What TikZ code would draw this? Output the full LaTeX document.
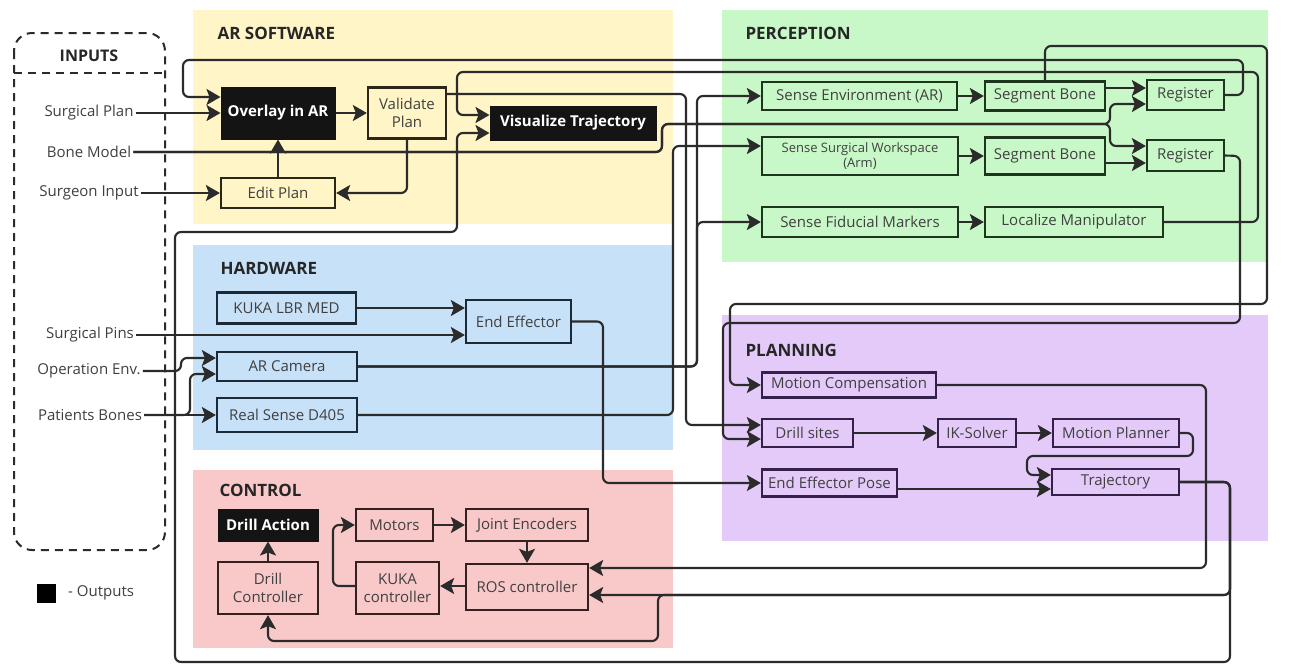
\documentclass[tikz,border=0pt]{standalone}
\usepackage{fontspec}
\setmainfont{Open Sans}
\usetikzlibrary{arrows.meta}
\definecolor{ylw}{HTML}{FFF5C6}
\definecolor{grn}{HTML}{C9F8C8}
\definecolor{blu}{HTML}{C7E1F8}
\definecolor{pur}{HTML}{E3CAF9}
\definecolor{pnk}{HTML}{F9C9C9}
\definecolor{ybd}{HTML}{2A2618}
\definecolor{gbd}{HTML}{1C351C}
\definecolor{bbd}{HTML}{1C2A38}
\definecolor{pbd}{HTML}{35204A}
\definecolor{kbd}{HTML}{352020}
\definecolor{lncol}{HTML}{2B2B2B}
\definecolor{txcol}{HTML}{404040}
\newcommand{\mybody}{\fontsize{15}{17.5}\selectfont}
\newcommand{\mysmall}{\fontsize{13}{15.5}\selectfont}
\newcommand{\mytitle}{\fontsize{17}{20}\selectfont\bfseries}
\begin{document}
\begin{tikzpicture}[x=1pt,y=-1pt,
  box/.style={rectangle, line width=2.3pt, inner sep=1pt, align=center, font=\mybody, text=txcol},
  ybox/.style={box, draw=ybd, fill=ylw},
  gbox/.style={box, draw=gbd, fill=grn},
  bbox/.style={box, draw=bbd, fill=blu},
  pbox/.style={box, draw=pbd, fill=pur},
  kbox/.style={box, draw=kbd, fill=pnk},
  outbox/.style={rectangle, fill=black!92, draw=black!92, line width=1pt, text=white, font=\mybody\bfseries, align=center},
  title/.style={anchor=west, font=\mytitle, text=black!85},
  inlab/.style={font=\mybody, text=txcol, inner sep=2pt},
  conn/.style={draw=lncol, line width=2.1pt, rounded corners=6pt, -{Stealth[length=14pt,width=16pt,inset=3pt]}},
]
\useasboundingbox (0,0) rectangle (1309,665);
\fill[white] (0,0) rectangle (1309,665);

% panels
\fill[ylw] (193,10) rectangle (673,224);
\fill[grn] (722,10) rectangle (1268,262);
\fill[blu] (193,245) rectangle (673,450);
\fill[pur] (722,315) rectangle (1268,541);
\fill[pnk] (193,470) rectangle (673,648);

\node[title] (tar) at (214,33) {AR SOFTWARE};
\node[title] (tpe) at (742,33) {PERCEPTION};
\node[title] (thw) at (217,268) {HARDWARE};
\node[title] (tpl) at (742,350) {PLANNING};
\node[title] (tco) at (216,490) {CONTROL};

% inputs box
\draw[draw=lncol, line width=2pt, dash pattern=on 8pt off 6pt, rounded corners=18pt] (14,33) rectangle (165,550);
\draw[draw=lncol, line width=2pt, dash pattern=on 8pt off 6pt] (14,73) -- (165,73);
\node[font=\fontsize{16}{19}\selectfont\bfseries, text=black!85] (tin) at (89,56) {INPUTS};

\node[inlab] (splan) at (89,113) {Surgical Plan};
\node[inlab] (bone) at (89,152) {Bone Model};
\node[inlab] (surin) at (89,193) {Surgeon Input};
\node[inlab] (spins) at (90,335) {Surgical Pins};
\node[inlab] (openv) at (89,371) {Operation Env.};
\node[inlab] (pbones) at (90,415) {Patients Bones};

% legend
\node[fill=black, minimum size=19, inner sep=0pt] (leg) at (46.5,593.5) {};
\node[inlab, anchor=west] (legt) at (66,593) {- Outputs};

% AR software nodes
\node[outbox, minimum width=114, minimum height=52] (ovl) at (278,113) {Overlay in AR};
\node[ybox, minimum width=78, minimum height=51] (val) at (407,113) {Validate\\Plan};
\node[ybox, minimum width=114, minimum height=30] (edit) at (278,193) {Edit Plan};
\node[outbox, minimum width=166, minimum height=34] (vis) at (573,123) {Visualize Trajectory};

% perception nodes
\node[gbox, minimum width=195, minimum height=28] (senv) at (859.5,96) {Sense Environment (AR)};
\node[gbox, minimum width=120, minimum height=29] (seg1) at (1045,96) {Segment Bone};
\node[gbox, minimum width=77, minimum height=30] (reg1) at (1185.5,95) {Register};
\node[gbox, minimum width=196, minimum height=38, font=\mysmall] (ssw) at (860,156) {Sense Surgical Workspace\\(Arm)};
\node[gbox, minimum width=120, minimum height=37] (seg2) at (1045,156) {Segment Bone};
\node[gbox, minimum width=77, minimum height=31] (reg2) at (1185.5,155.5) {Register};
\node[gbox, minimum width=196, minimum height=30] (sfm) at (860,222) {Sense Fiducial Markers};
\node[gbox, minimum width=178, minimum height=30] (loc) at (1074,222) {Localize Manipulator};

% hardware nodes
\node[bbox, minimum width=139, minimum height=31] (kuka) at (286.5,308) {KUKA LBR MED};
\node[bbox, minimum width=105, minimum height=43] (ee) at (518.5,321.5) {End Effector};
\node[bbox, minimum width=140, minimum height=29] (arcam) at (287,366.5) {AR Camera};
\node[bbox, minimum width=140, minimum height=34] (rs) at (287,415) {Real Sense D405};

% planning nodes
\node[pbox, minimum width=174, minimum height=25] (mc) at (849,385) {Motion Compensation};
\node[pbox, minimum width=91, minimum height=28] (ds) at (807.5,433) {Drill sites};
\node[pbox, minimum width=78, minimum height=28] (ik) at (977,433) {IK-Solver};
\node[pbox, minimum width=126, minimum height=28] (mp) at (1116,433) {Motion Planner};
\node[pbox, minimum width=135, minimum height=27] (eep) at (829.5,483) {End Effector Pose};
\node[pbox, minimum width=127, minimum height=26] (traj) at (1115.5,482) {Trajectory};

% control nodes
\node[outbox, minimum width=100, minimum height=32] (da) at (268,525) {Drill Action};
\node[kbox, minimum width=100, minimum height=52] (dc) at (268,588) {Drill\\Controller};
\node[kbox, minimum width=77, minimum height=32] (mot) at (394.5,525) {Motors};
\node[kbox, minimum width=122, minimum height=32] (je) at (527,525) {Joint Encoders};
\node[kbox, minimum width=83, minimum height=52] (kc) at (397.5,588) {KUKA\\controller};
\node[kbox, minimum width=122, minimum height=46] (ros) at (527,587) {ROS controller};

% ---------- connectors ----------
% AR software
\draw[conn] (splan.east) -- (splan.east -| ovl.west);
\draw[conn] (reg1.east) -- (1243,95) -- (1243,60) -- (183,60) -- (183,97) -- (ovl.west |- 0,97);
\draw[conn] (ovl.east) -- (val.west |- ovl.east);
\draw[conn] (edit.north) -- (ovl.south);
\draw[conn] (val.south) |- (edit.east);
\draw[conn] (surin.east) -- (surin.east -| edit.west);
\draw[conn] (val.east |- 0,94) -- (686,94) -- (686,425) -- (ds.west |- 0,425);
\draw[conn] (loc.east) -- (1258,222) -- (1258,72) -- (457,72) -- (457,115) -- (vis.west |- 0,115);

% perception
\draw[conn] (senv.east) -- (seg1.west);
\draw[conn] (seg1.east |- 0,88) -- (reg1.west |- 0,88);
\draw[conn] (ssw.east) -- (seg2.west);
\draw[conn] (seg2.east |- 0,163) -- (reg2.west |- 0,163);
\draw[conn] (sfm.east) -- (loc.west);
\draw[conn] (bone.east) -- (662,152) -- (662,124) -- (1110,124) -- (1110,104) -- (reg1.west |- 0,104);
\draw[conn] (bone.east) -- (662,152) -- (662,124) -- (1110,124) -- (1110,146) -- (reg2.west |- 0,146);
\draw[conn] (seg1.north) -- (1045,46) -- (1267,46) -- (1267,304) -- (730,304) -- (730,385) -- (mc.west);
\draw[conn] (reg2.east) -- (1240,156) -- (1240,323) -- (723,323) -- (723,439) -- (ds.west |- 0,439);

% hardware
\draw[conn] (kuka.east) -- (ee.west |- kuka.east);
\draw[conn] (spins.east) -- (spins.east -| ee.west);
\draw[conn] (openv.east) -- (181,371) -- (181,358) -- (arcam.west |- 0,358);
\draw[conn] (pbones.east) -- (190,415) -- (190,374) -- (arcam.west |- 0,374);
\draw[conn] (pbones.east) -- (pbones.east -| rs.west);
\draw[conn] (arcam.east) -- (697,366.5) -- (697,96) -- (senv.west);
\draw[conn] (arcam.east) -- (697,366.5) -- (697,222) -- (sfm.west);
\draw[conn] (rs.east) -- (673,415) -- (673,146) -- (ssw.west |- 0,146);
\draw[conn] (ee.east) -- (603,321.5) -- (603,483) -- (eep.west);

% planning
\draw[conn] (ds.east) -- (ik.west);
\draw[conn] (ik.east) -- (mp.west);
\draw[conn] (mp.east) -- (1193,433) -- (1193,456) -- (1027,456) -- (1027,475) -- (traj.west |- 0,475);
\draw[conn] (eep.east |- 0,489) -- (traj.west |- 0,489);
\draw[conn] (mc.east) -- (1206,385) -- (1206,568) -- (ros.east |- 0,568);
\draw[conn] (traj.east) -- (1230,482) -- (1230,595) -- (ros.east |- 0,595);
\draw[conn] (traj.east) -- (1230,482) -- (1230,595) -- (658,595) -- (658,641) -- (268,641) -- (dc.south);
\draw[conn] (traj.east) -- (1230,482) -- (1230,662) -- (175,662) -- (175,232) -- (457,232) -- (457,133) -- (vis.west |- 0,133);

% control
\draw[conn] (dc.north) -- (da.south);
\draw[conn] (mot.east) -- (je.west);
\draw[conn] (je.south) -- (ros.north);
\draw[conn] (ros.west |- 0,586) -- (kc.east |- 0,586);
\draw[conn] (kc.west |- 0,586) -- (333,586) -- (333,525) -- (mot.west);
\end{tikzpicture}
\end{document}
